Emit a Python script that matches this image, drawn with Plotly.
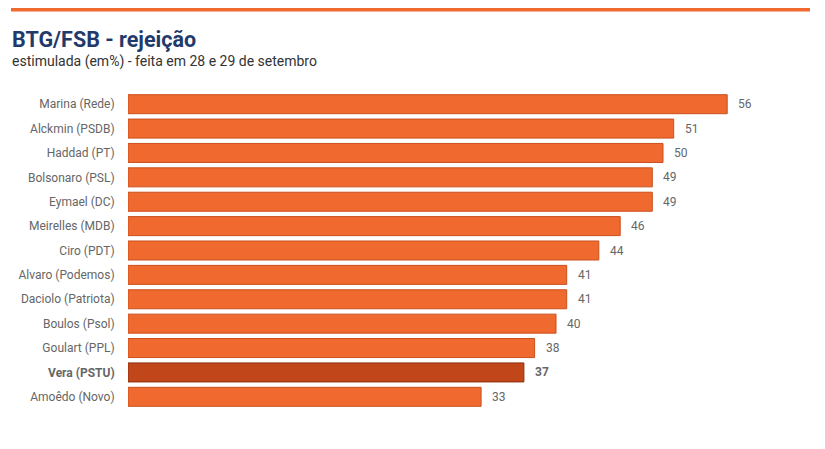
import plotly.graph_objects as go

candidatos = ['Marina (Rede)', 'Alckmin (PSDB)', 'Haddad (PT)', 'Bolsonaro (PSL)',
              'Eymael (DC)', 'Meirelles (MDB)', 'Ciro (PDT)', 'Alvaro (Podemos)',
              'Daciolo (Patriota)', 'Boulos (Psol)', 'Goulart (PPL)', 'Vera (PSTU)',
              'Amoêdo (Novo)']
rejeicao = [56, 51, 50, 49, 49, 46, 44, 41, 41, 40, 38, 37, 33]
destaque = 'Vera (PSTU)'

# the page has an 8px body margin, so work in window pixels and shift
OFF = 8
W, H = 825 - OFF, 449 - OFF
L, R, T, B = 128 - OFF, 55, 92 - OFF, 40
pw, ph = W - L - R, H - T - B

def px_x(p):
    return (p - OFF - L) / pw

def px_y(p):
    return 1 - (p - OFF - T) / ph

cores = ['#c1461a' if c == destaque else '#f0692f' for c in candidatos]
bordas = ['#8f2f0f' if c == destaque else '#c9501f' for c in candidatos]
rotulos = ['<b>%s</b>' % c if c == destaque else c for c in candidatos]

fig = go.Figure(go.Bar(
    x=rejeicao, y=rotulos, orientation='h',
    marker=dict(color=cores, line=dict(color=bordas, width=1)),
    hoverinfo='skip',
))

# value labels next to the bars
valores = []
for c, r, v in zip(candidatos, rotulos, rejeicao):
    valores.append(dict(
        x=v, y=r, xref='x', yref='y', text='<b>%d</b>' % v if c == destaque else str(v),
        xanchor='left', yanchor='middle', xshift=9, showarrow=False,
        font=dict(family='Roboto', size=12, color='#666666')))

fig.update_layout(
    width=W, height=H,
    margin=dict(l=L, r=R, t=T, b=B),
    paper_bgcolor='white', plot_bgcolor='white',
    showlegend=False, bargap=0.22,
    font=dict(family='Roboto', size=12, color='#666666'),
    xaxis=dict(range=[0, 60], visible=False, fixedrange=True),
    yaxis=dict(autorange='reversed', showgrid=False, showline=False, zeroline=False,
               ticks='outside', ticklen=10, tickcolor='rgba(0,0,0,0)',
               tickfont=dict(family='Roboto', size=12, color='#666666')),
    shapes=[dict(type='rect', xref='paper', yref='paper',
                 x0=px_x(11), x1=px_x(810), y0=px_y(11.5), y1=px_y(8),
                 fillcolor='#f0692f', line=dict(width=0))],
    annotations=valores + [
        dict(text='<b>BTG/FSB - rejeição</b>', xref='paper', yref='paper',
             x=px_x(10), y=px_y(40), xanchor='left', yanchor='middle', showarrow=False,
             font=dict(family='Roboto', size=21.5, color='#1f3a6b')),
        dict(text='estimulada (em%) - feita em 28 e 29 de setembro', xref='paper', yref='paper',
             x=px_x(10), y=px_y(62), xanchor='left', yanchor='middle', showarrow=False,
             font=dict(family='Roboto', size=14, color='#333333')),
    ],
)

fig.write_html('out.html')
